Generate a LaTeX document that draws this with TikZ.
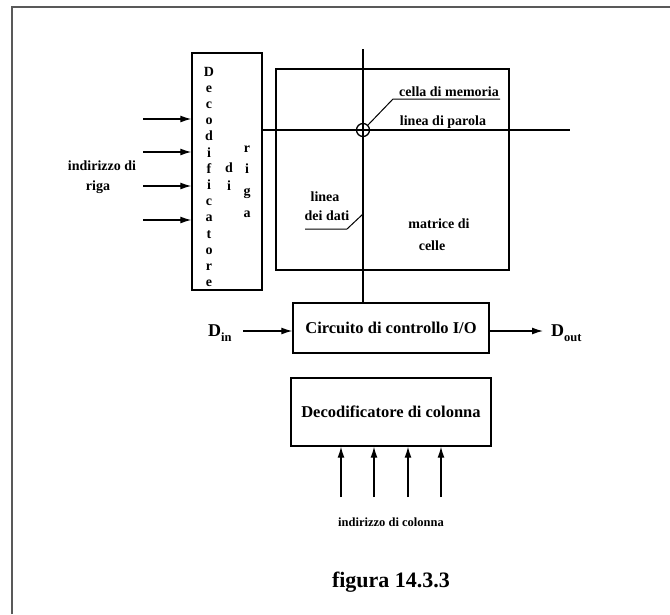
\documentclass[tikz,border=0pt]{standalone}
\usepackage{fontspec}
\setmainfont{Liberation Serif}
\usetikzlibrary{arrows.meta, positioning}
\tikzset{
    blockBox/.style={
        draw=black,
        fill=white,
        line width=1.4pt,
        inner sep=0pt
    },
    lbl/.style={
        font=\bfseries\fontsize{14}{16}\selectfont,
        inner sep=0pt
    },
    bigLbl/.style={
        font=\bfseries\fontsize{16.5}{19}\selectfont,
        inner sep=0pt
    },
    wire/.style={line width=1.3pt},
    leader/.style={line width=1pt}
}

\begin{document}
\begin{tikzpicture}[x=1pt, y=-1pt, >={Latex[length=11pt, width=7pt]}]
            \useasboundingbox (0,0) rectangle (670,614);

            % Outer frame
            \draw[gray!70!black, line width=1.6pt] (12,614) -- (12,7) -- (670,7);

            % Blocks
            \node[blockBox, minimum width=70pt, minimum height=237pt] (RowDec) at (227,171.5) {};
            \node[blockBox, minimum width=233pt, minimum height=201pt] (CellMatrix) at (392.5,169.5) {};
            \node[blockBox, minimum width=196pt, minimum height=50pt, bigLbl] (IOCtrl) at (391,328) {Circuito di controllo I/O};
            \node[blockBox, minimum width=200pt, minimum height=68pt, bigLbl] (ColDec) at (391,412) {Decodificatore di colonna};

            % Vertical text inside the row decoder
            \foreach \ch [count=\k] in {D,e,c,o,d,i,f,i,c,a,t,o,r,e}
                \node[lbl, anchor=base] (decL\k) at (209,{76+16.2*(\k-1)}) {\ch};
            \foreach \ch [count=\k] in {d,i}
                \node[lbl, anchor=base] (diL\k) at (229,{172+18*(\k-1)}) {\ch};
            \foreach \ch [count=\k] in {r,i,g,a}
                \node[lbl, anchor=base] (rigaL\k) at (247,{152+21.7*(\k-1)}) {\ch};

            % Word line and data line
            \coordinate (wordEnd) at (570,130);
            \coordinate (dataTop) at (363,49);
            \node[circle, draw=black, line width=1.3pt, minimum size=13pt, inner sep=0pt] (Cell) at (363,130) {};
            \draw[wire] (RowDec.east |- wordEnd) -- (wordEnd);
            \draw[wire] (dataTop) -- (IOCtrl.north -| dataTop);

            % Cell and line labels
            \node[lbl, anchor=base] (cellaLbl) at (449,96) {cella di memoria};
            \coordinate (cellaUL) at (393,99);
            \coordinate (cellaUR) at (500,99);
            \draw[leader] (Cell.north east) -- (cellaUL) -- (cellaUR);
            \node[lbl, anchor=base] (parolaLbl) at (443,125) {linea di parola};
            \node[lbl, anchor=base] (lineaLbl) at (325,201) {linea};
            \node[lbl, anchor=base] (datiLbl) at (327,220) {dei dati};
            \coordinate (datiUL) at (305,229);
            \coordinate (datiUR) at (347,229);
            \coordinate (datiTip) at (363,214);
            \draw[leader] (datiUL) -- (datiUR) -- (datiTip);
            \node[lbl, anchor=base] (matriceLbl) at (439,228) {matrice di};
            \node[lbl, anchor=base] (celleLbl) at (432,250) {celle};

            % Row address inputs
            \foreach \y [count=\k] in {119,152,186,220} {
                \coordinate (rowIn\k) at (143,\y);
                \draw[wire, ->] (rowIn\k) -- (RowDec.west |- rowIn\k);
            }
            \node[lbl, anchor=base] (rowAddr1) at (102,170) {indirizzo di};
            \node[lbl, anchor=base] (rowAddr2) at (98,190) {riga};

            % Data in / data out
            \node[font=\bfseries\fontsize{18}{20}\selectfont, inner sep=0pt, anchor=base west] (Din) at (208,336)
                {D\raisebox{-5pt}{\fontsize{12.5}{12}\selectfont in}};
            \coordinate (dinStart) at (243,331);
            \draw[wire, ->] (dinStart) -- (IOCtrl.west |- dinStart);
            \coordinate (doutEnd) at (543,331);
            \draw[wire, ->] (IOCtrl.east |- doutEnd) -- (doutEnd);
            \node[font=\bfseries\fontsize{18}{20}\selectfont, inner sep=0pt, anchor=base west] (Dout) at (551,336)
                {D\raisebox{-5pt}{\fontsize{12.5}{12}\selectfont out}};

            % Column address inputs
            \foreach \x [count=\k] in {341,374,408,441} {
                \coordinate (colIn\k) at (\x,497);
                \draw[wire, ->] (colIn\k) -- (ColDec.south -| colIn\k);
            }
            \node[font=\bfseries\fontsize{12.5}{14}\selectfont, inner sep=0pt, anchor=base] (colAddr) at (391,526) {indirizzo di colonna};

            % Caption
            \node[font=\bfseries\fontsize{22}{26}\selectfont, inner sep=0pt, anchor=base] (caption) at (391,587) {figura 14.3.3};
        \end{tikzpicture}
\end{document}
